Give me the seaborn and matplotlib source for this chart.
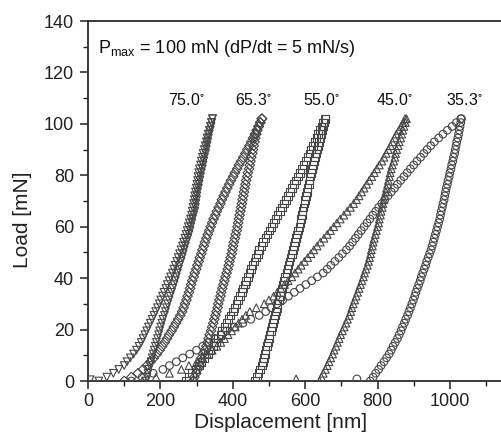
import matplotlib
matplotlib.use("Agg")
import matplotlib.pyplot as plt
import seaborn as sns
import pandas as pd
from matplotlib.ticker import MultipleLocator

# ---- data (load in mN, displacement in nm) ----
LOADS = [0, 1.5, 3, 4.5, 6, 7.5, 9, 10.5, 12, 13.5, 15, 16.5, 18, 19.5, 21, 22.5,
         24, 25.5, 27, 28.5, 30, 31.5, 33, 34.5, 36, 37.5, 39, 40.5, 42, 43.5, 45,
         46.5, 48, 49.5, 51, 52.5, 54, 55.5, 57, 58.5, 60, 61.5, 63, 64.5, 66, 67.5,
         69, 70.5, 72, 73.5, 75, 76.5, 78, 79.5, 81, 82.5, 84, 85.5, 87, 88.5, 90,
         91.5, 93, 94.5, 96, 97.5, 99, 100.5, 102]

ANGLES = ["75.0°", "65.3°", "55.0°", "45.0°", "35.3°"]
ANGLE_TEXT = ["75.0", "65.3", "55.0", "45.0", "35.3"]

D75_LOADING = [30, 52, 70, 85, 100, 108, 117, 126, 134, 141, 147, 152, 157, 162, 167,
               172, 177, 182, 187, 192, 197, 201, 206, 210, 215, 219, 224, 228, 233,
               237, 241, 245, 249, 253, 257, 261, 264, 268, 271, 274, 277, 280, 283,
               286, 288, 290, 292, 294, 295, 297, 299, 301, 303, 304, 306, 308, 311,
               313, 316, 318, 321, 324, 327, 329, 332, 335, 338, 341, 344]
D75_UNLOADING = [160, 163, 166, 168, 171, 174, 177, 180, 183, 186, 189, 192, 195, 198,
                 201, 204, 207, 211, 214, 217, 220, 224, 227, 231, 234, 238, 241, 244,
                 247, 250, 253, 257, 260, 263, 266, 269, 272, 276, 279, 282, 284, 287,
                 289, 292, 295, 297, 298, 300, 301, 303, 305, 307, 309, 311, 313, 316,
                 318, 320, 322, 325, 327, 329, 331, 333, 335, 338, 340, 342, 344]

D65_LOADING = [100, 120, 138, 152, 163, 173, 182, 190, 198, 205, 212, 218, 224, 231,
               237, 243, 249, 255, 260, 264, 268, 272, 275, 279, 282, 285, 288, 292,
               295, 299, 302, 306, 309, 313, 316, 320, 323, 327, 331, 335, 339, 343,
               347, 352, 356, 361, 366, 370, 375, 380, 385, 390, 395, 401, 406, 412,
               417, 423, 429, 435, 440, 446, 451, 456, 461, 466, 471, 476, 481]
D65_UNLOADING = [290, 294, 299, 303, 308, 311, 314, 318, 323, 327, 330, 333, 336, 340,
                 343, 346, 349, 352, 355, 358, 360, 363, 366, 368, 371, 374, 377, 380,
                 383, 386, 389, 391, 394, 397, 399, 401, 403, 406, 408, 411, 413, 415,
                 417, 419, 421, 423, 425, 427, 429, 431, 433, 435, 437, 440, 442, 445,
                 447, 449, 451, 454, 456, 458, 460, 462, 465, 468, 472, 476, 480]

D55_LOADING = [270, 279, 288, 297, 306, 314, 322, 331, 339, 347, 354, 360, 366, 371,
               377, 383, 388, 394, 400, 405, 410, 415, 420, 425, 429, 433, 437, 442,
               446, 451, 455, 460, 464, 469, 473, 479, 484, 490, 496, 502, 507, 513,
               518, 524, 530, 536, 541, 547, 552, 558, 564, 569, 574, 580, 585, 591,
               596, 602, 607, 612, 616, 621, 626, 631, 636, 641, 645, 650, 655]
D55_UNLOADING = [462, 467, 471, 476, 480, 483, 486, 489, 491, 494, 497, 500, 502, 505,
                 508, 511, 514, 516, 519, 522, 524, 527, 530, 533, 536, 539, 542, 545,
                 548, 551, 554, 557, 560, 563, 566, 569, 572, 575, 578, 581, 584, 587,
                 589, 591, 593, 596, 598, 600, 602, 605, 607, 610, 612, 614, 617, 619,
                 622, 624, 627, 630, 633, 636, 639, 642, 645, 648, 651, 653, 656]

D45_LOADING = [150, 188, 225, 258, 279, 301, 317, 330, 343, 356, 367, 377, 387, 397,
               407, 416, 426, 436, 447, 465, 487, 500, 513, 523, 533, 543, 553, 563,
               572, 581, 589, 598, 607, 616, 624, 633, 642, 652, 661, 670, 679, 688,
               697, 707, 716, 725, 734, 742, 749, 756, 763, 770, 777, 784, 791, 798,
               805, 812, 818, 824, 830, 836, 841, 847, 852, 859, 865, 871, 876]
D45_UNLOADING = [640, 645, 650, 656, 661, 666, 671, 676, 680, 685, 689, 694, 698, 703,
                 708, 713, 717, 722, 726, 729, 733, 737, 741, 745, 749, 753, 757, 761,
                 764, 768, 772, 775, 778, 781, 783, 786, 788, 791, 794, 797, 800, 803,
                 805, 808, 810, 813, 815, 818, 820, 823, 825, 828, 830, 833, 835, 838,
                 841, 845, 848, 850, 853, 857, 860, 864, 867, 870, 873, 877, 880]

D35_LOADING = [120, 150, 180, 207, 225, 244, 262, 281, 300, 317, 334, 351, 368, 383,
               405, 428, 450, 473, 491, 506, 522, 538, 554, 570, 586, 602, 618, 634,
               650, 661, 671, 682, 693, 703, 714, 723, 731, 739, 747, 755, 763, 771,
               779, 787, 795, 803, 812, 820, 829, 838, 847, 855, 864, 873, 882, 891,
               900, 909, 919, 928, 937, 947, 957, 969, 981, 993, 1006, 1018, 1030]
D35_UNLOADING = [780, 788, 795, 803, 810, 818, 825, 832, 838, 843, 849, 855, 860, 865,
                 869, 874, 878, 883, 887, 891, 895, 899, 903, 906, 910, 914, 918, 921,
                 925, 929, 933, 936, 940, 944, 948, 951, 954, 957, 960, 963, 966, 969,
                 972, 974, 976, 979, 981, 984, 986, 988, 990, 993, 995, 998, 1000, 1003,
                 1005, 1008, 1010, 1013, 1015, 1017, 1019, 1022, 1024, 1026, 1028, 1030, 1032]

# a few isolated points lying on the zero-load line
STRAY_ANGLE = ["75.0°", "45.0°", "35.3°"]
STRAY_DISP = [6, 575, 743]
STRAY_LOAD = [0.5, 0.8, 0.8]

BRANCHES = {
    "75.0°": (D75_LOADING, D75_UNLOADING),
    "65.3°": (D65_LOADING, D65_UNLOADING),
    "55.0°": (D55_LOADING, D55_UNLOADING),
    "45.0°": (D45_LOADING, D45_UNLOADING),
    "35.3°": (D35_LOADING, D35_UNLOADING),
}
MARKERS = {"75.0°": "v", "65.3°": "D", "55.0°": "s", "45.0°": "^", "35.3°": "o"}

rows = []
for ang, (ld, ul) in BRANCHES.items():
    assert len(ld) == len(LOADS) and len(ul) == len(LOADS), ang
    for d, p in zip(ld, LOADS):
        rows.append((ang, "loading", d, p))
    for d, p in zip(ul, LOADS):
        rows.append((ang, "unloading", d, p))
for ang, d, p in zip(STRAY_ANGLE, STRAY_DISP, STRAY_LOAD):
    rows.append((ang, "stray", d, p))
df = pd.DataFrame(rows, columns=["angle", "branch", "disp", "load"])

# ---- style ----
sns.set_style("ticks")
plt.rcParams["font.family"] = ["Liberation Sans", "DejaVu Sans"]
plt.rcParams["mathtext.fontset"] = "custom"
plt.rcParams["mathtext.rm"] = "Liberation Sans"
plt.rcParams["mathtext.it"] = "Liberation Sans:italic"
plt.rcParams["mathtext.default"] = "regular"

fig = plt.figure(figsize=(5.02, 4.44), dpi=100)
ax = fig.add_axes([88 / 502, 63 / 444, 414 / 502, 360 / 444])

edge = "#474747"
for ang in ANGLES:
    sub = df[df["angle"] == ang]
    size = 24 if MARKERS[ang] == "D" else 30
    sns.scatterplot(data=sub, x="disp", y="load", marker=MARKERS[ang], s=size,
                    facecolors="none", edgecolor=edge, linewidth=0.8,
                    color=edge, ax=ax, legend=False, zorder=3)

ax.set_xlim(0, 1144)
ax.set_ylim(0, 140)
ax.xaxis.set_major_locator(MultipleLocator(200))
ax.xaxis.set_minor_locator(MultipleLocator(100))
ax.yaxis.set_major_locator(MultipleLocator(20))
ax.yaxis.set_minor_locator(MultipleLocator(10))
ax.tick_params(which="major", direction="out", length=6, width=1.1,
               labelsize=13, pad=2.5, colors="#222222")
ax.tick_params(which="minor", direction="out", length=3.5, width=1.0, colors="#222222")
ax.tick_params(axis="y", which="major", pad=4)

for side in ["left", "bottom", "top"]:
    ax.spines[side].set_linewidth(1.3)
    ax.spines[side].set_color("#2a2a2a")
ax.spines["right"].set_visible(False)

ax.set_xlabel("Displacement [nm]", fontsize=15, color="#222222")
ax.set_ylabel("Load [mN]", fontsize=15, color="#222222")
ax.xaxis.set_label_coords(0.466, -0.09)
ax.yaxis.set_label_coords(-0.135, 0.447)

ax.text(0.024, 0.911, r"P$_{\mathregular{max}}$ = 100 mN (dP/dt = 5 mN/s)",
        transform=ax.transAxes, fontsize=13, va="baseline", ha="left", color="#111111")

LABEL_X = [271, 456, 644, 848, 1039]
for txt, lx in zip(ANGLE_TEXT, LABEL_X):
    ax.text(lx, 107.4, txt + r"$^{\circ}$", fontsize=11.5, ha="center",
            va="baseline", color="#111111")

fig.savefig("out.png", dpi=100)
